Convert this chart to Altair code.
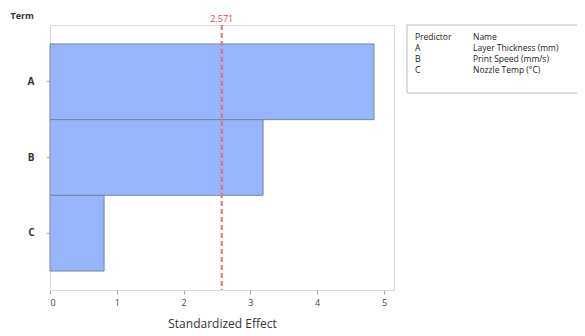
import altair as alt
import pandas as pd

terms = ["A", "B", "C"]
effects = [4.85, 3.19, 0.81]
names = ["Layer Thickness (mm)", "Print Speed (mm/s)", "Nozzle Temp (°C)"]
critical = 2.571
x_ticks = [0, 1, 2, 3, 4, 5]

FONT = "Open Sans"
bars_df = pd.DataFrame({"Term": terms, "Effect": effects})
crit_df = pd.DataFrame({"v": [critical], "label": [f"{critical:.3f}"]})
leg_df = pd.DataFrame({
    "row": [0, 1, 2, 3],
    "pred": ["Predictor"] + terms,
    "name": ["Name"] + names,
})

W, H = 344, 265

bars = alt.Chart(bars_df).mark_bar(
    color="#96b5fa", stroke="#7587a6", strokeWidth=1
).encode(
    x=alt.X("Effect:Q", scale=alt.Scale(domain=[0, 5.15], nice=False, zero=True),
            axis=alt.Axis(values=x_ticks, format="d", title="Standardized Effect", grid=False,
                          domain=False, tickColor="#aaaaaa", tickSize=4, labelPadding=4,
                          labelFontSize=9, labelColor="#444444", labelFont=FONT,
                          titleFont=FONT, titleFontSize=12, titleFontWeight="normal",
                          titleColor="#333333", titleBaseline="middle", titleY=33)),
    y=alt.Y("Term:N", sort=terms,
            scale=alt.Scale(paddingInner=0, paddingOuter=0.25),
            axis=alt.Axis(title="Term", titleAngle=0, titleX=-40, titleY=-10,
                          titleAlign="left", titleBaseline="middle", titleFont=FONT,
                          titleFontSize=9, titleFontWeight="bold", titleColor="#333333",
                          domain=False, tickColor="#aaaaaa", tickSize=4, labelPadding=12,
                          labelFont=FONT, labelFontSize=10, labelFontWeight="bold",
                          labelColor="#333333")),
)

rule = alt.Chart(crit_df).mark_rule(color="#f26b6b", strokeDash=[5, 3], strokeWidth=2).encode(
    x="v:Q"
)
rule_label = alt.Chart(crit_df).mark_text(
    color="#d24b4b", font=FONT, fontSize=9, baseline="middle"
).encode(x="v:Q", y=alt.value(-6), text="label:N")

leg_box = alt.Chart(pd.DataFrame({"k": [0]})).mark_rect(
    fill="white", stroke="#bbbbbb", strokeWidth=1
).encode(x=alt.value(357), x2=alt.value(534), y=alt.value(0), y2=alt.value(68))

leg_y = alt.Y("row:Q", scale=alt.Scale(domain=[0, 3], range=[11.5, 45]), axis=None)
leg_pred = alt.Chart(leg_df).mark_text(
    align="left", baseline="middle", font=FONT, fontSize=8.5, color="#222222"
).encode(x=alt.value(365), y=leg_y, text="pred:N")
leg_name = alt.Chart(leg_df).mark_text(
    align="left", baseline="middle", font=FONT, fontSize=8.5, color="#222222"
).encode(x=alt.value(423), y=leg_y, text="name:N")

chart = alt.layer(bars, rule, rule_label, leg_box, leg_pred, leg_name).resolve_scale(
    y="independent"
).properties(
    width=W, height=H,
    autosize=alt.AutoSizeParams(type="none"),
    padding={"left": 42, "top": 17, "right": 183, "bottom": 40},
).configure_view(stroke="#d4d4d4", strokeWidth=1).configure(background="white")

chart.save("out.html", embed_options={"renderer": "svg", "actions": False})
